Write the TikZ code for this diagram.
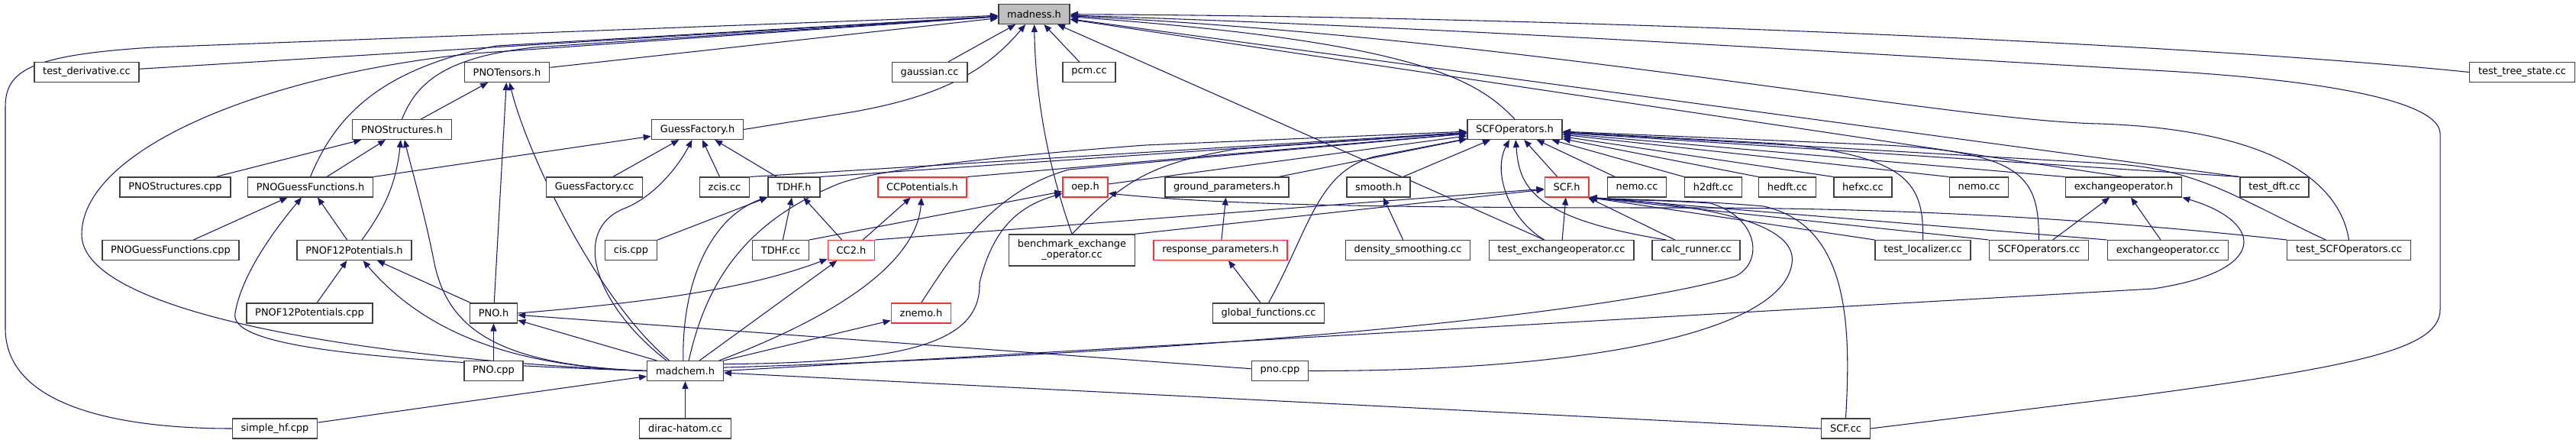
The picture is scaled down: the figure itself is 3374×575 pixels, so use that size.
\documentclass[tikz,border=0pt]{standalone}
\usepackage{fontspec}
\setmainfont{DejaVu Sans}
\usepackage{xcolor}
\usepackage{tikz}
\usetikzlibrary{arrows.meta, backgrounds}
\definecolor{edgeblue}{HTML}{191970}
\definecolor{boxgrey}{HTML}{404040}
\definecolor{boxred}{HTML}{FF3030}
\definecolor{mainfill}{HTML}{BFBFBF}
\tikzstyle{filenode} = [rectangle, draw=boxgrey, line width=1.1pt, fill=white, minimum height=19.2pt, inner xsep=8.5pt, inner ysep=1pt, font=\fontsize{9.7pt}{10.5pt}\selectfont]
\tikzstyle{redfile} = [filenode, draw=boxred]
\tikzstyle{mainfile} = [filenode, fill=mainfill]
\tikzstyle{arrow} = [draw=edgeblue, line width=0.8pt, -{Triangle[length=7.5pt,width=6pt]}]
\begin{document}
\begin{tikzpicture}[x=0.75pt, y=-0.75pt]
  \useasboundingbox (0,0) rectangle (3374,575);
  % rank 1 and 2
  \node (madness) [mainfile] at (1354.5,18.5) {madness.h};
  \node (testderiv) [filenode] at (113.5,94.5) {test\_derivative.cc};
  \node (pnotensors) [filenode] at (664,94.5) {PNOTensors.h};
  \node (gaussian) [filenode] at (1217.5,94.5) {gaussian.cc};
  \node (pcm) [filenode] at (1426.5,94.5) {pcm.cc};
  \node (testtree) [filenode] at (3303.5,94.5) {test\_tree\_state.cc};
  % rank 3
  \node (pnostruct) [filenode] at (526.5,169.5) {PNOStructures.h};
  \node (guessfac) [filenode] at (913.5,169.5) {GuessFactory.h};
  \node (scfops) [filenode] at (1984,169.5) {SCFOperators.h};
  % rank 4
  \node (pnostructcpp) [filenode] at (229.5,245) {PNOStructures.cpp};
  \node (pnoguess) [filenode] at (406.5,245) {PNOGuessFunctions.h};
  \node (guessfaccc) [filenode] at (778.5,245) {GuessFactory.cc};
  \node (zcis) [filenode] at (949,245) {zcis.cc};
  \node (tdhfh) [filenode] at (1040,245) {TDHF.h};
  \node (ccpot) [redfile] at (1208,245) {CCPotentials.h};
  \node (oep) [redfile] at (1421.5,245) {oep.h};
  \node (groundpar) [filenode] at (1607,245) {ground\_parameters.h};
  \node (smooth) [filenode] at (1805.5,245) {smooth.h};
  \node (scfh) [redfile] at (2052,245) {SCF.h};
  \node (nemoa) [filenode] at (2144,245) {nemo.cc};
  \node (htwodft) [filenode] at (2244,245) {h2dft.cc};
  \node (hedft) [filenode] at (2341,245) {hedft.cc};
  \node (hefxc) [filenode] at (2440,245) {hefxc.cc};
  \node (nemob) [filenode] at (2592,245) {nemo.cc};
  \node (exopsh) [filenode] at (2781.5,245) {exchangeoperator.h};
  \node (testdft) [filenode] at (2979,245) {test\_dft.cc};
  % rank 5
  \node (pnoguesscpp) [filenode] at (223.5,327.5) {PNOGuessFunctions.cpp};
  \node (pnofh) [filenode] at (464,327.5) {PNOF12Potentials.h};
  \node (cis) [filenode] at (826.5,327.5) {cis.cpp};
  \node (tdhfcc) [filenode] at (1022.5,327.5) {TDHF.cc};
  \node (cctwo) [redfile] at (1115,327.5) {CC2.h};
  \node (bench) [filenode, align=center, minimum height=30.75pt] at (1404,327.5) {benchmark\_exchange\\\_operator.cc};
  \node (resppar) [redfile] at (1598.5,327.5) {response\_parameters.h};
  \node (denssmooth) [filenode] at (1844,327.5) {density\_smoothing.cc};
  \node (testexop) [filenode] at (2045,327.5) {test\_exchangeoperator.cc};
  \node (calcrun) [filenode] at (2221.5,327.5) {calc\_runner.cc};
  \node (testloc) [filenode] at (2518.5,327.5) {test\_localizer.cc};
  \node (scfopscc) [filenode] at (2670.5,327.5) {SCFOperators.cc};
  \node (exopscc) [filenode] at (2839.5,327.5) {exchangeoperator.cc};
  \node (testscfops) [filenode] at (3076.5,327.5) {test\_SCFOperators.cc};
  % rank 6 to 8
  \node (pnofcpp) [filenode] at (405.5,410) {PNOF12Potentials.cpp};
  \node (pnoh) [filenode] at (646.5,410) {PNO.h};
  \node (znemo) [redfile] at (1206.5,410) {znemo.h};
  \node (globfun) [filenode] at (1661.5,410) {global\_functions.cc};
  \node (pnocpp) [filenode] at (646.5,485.5) {PNO.cpp};
  \node (madchem) [filenode] at (897.5,485.5) {madchem.h};
  \node (pnolower) [filenode] at (1676.5,485.5) {pno.cpp};
  \node (simplehf) [filenode] at (360,561) {simple\_hf.cpp};
  \node (dirac) [filenode] at (897.5,561) {dirac-hatom.cc};
  \node (scfcc) [filenode] at (2417.5,561) {SCF.cc};

  \begin{scope}[on background layer]
  % included from madness.h
  \draw[arrow] (testderiv) -- (madness);
  \draw[arrow] (simplehf.west) .. controls (150,561) and (7,530) .. (7,430) -- (7,140) .. controls (7,92) and (40,72) .. (200,62) -- (madness);
  \draw[arrow] (pnotensors) -- (madness);
  \draw[arrow] (pnostruct.north) .. controls (545,110) and (580,75) .. (700,62) -- (madness);
  \draw[arrow] (pnoguess.north) .. controls (440,150) and (500,90) .. (650,60) -- (madness);
  \draw[arrow] (madchem.west) .. controls (480,470) and (107,410) .. (107,307) .. controls (107,200) and (330,100) .. (620,70) -- (madness);
  \draw[arrow] (gaussian) -- (madness);
  \draw[arrow] (pcm) -- (madness);
  \draw[arrow] (guessfac.east) -- (1120,146) .. controls (1230,126) and (1290,95) .. (madness);
  \draw[arrow] (bench.north) .. controls (1370,210) and (1356,120) .. (madness);
  \draw[arrow] (scfops.north) .. controls (1935,105) and (1860,55) .. (madness);
  \draw[arrow] (testexop.149) -- (madness);
  \draw[arrow] (testtree.west) .. controls (2900,60) and (2100,22) .. (madness);
  \draw[arrow] (scfcc.east) -- (2800,518) .. controls (3100,478) and (3196,455) .. (3196,405) -- (3196,175) .. controls (3196,135) and (3060,105) .. (2820,92) .. controls (2400,68) and (1900,36) .. (madness);
  \draw[arrow] (testscfops.north) .. controls (3065,240) and (2980,170) .. (2750,162) .. controls (2550,158) and (2000,50) .. (madness);
  \draw[arrow] (testdft.north west) -- (madness);
  \draw[arrow] (exopsh.north) -- (madness);
  % PNO group
  \draw[arrow] (pnostruct) -- (pnotensors);
  \draw[arrow] (pnoh) -- (pnotensors);
  \draw[arrow] (madchem.147) .. controls (780,390) and (690,200) .. (pnotensors);
  \draw[arrow] (pnostructcpp) -- (pnostruct);
  \draw[arrow] (pnoguess) -- (pnostruct);
  \draw[arrow] (pnofh) to[bend right=15] (pnostruct);
  \draw[arrow] (madchem.west) .. controls (650,478) and (585,430) .. (568,340) .. controls (555,275) and (540,225) .. (pnostruct);
  \draw[arrow] (pnoguesscpp) -- (pnoguess);
  \draw[arrow] (pnofh) -- (pnoguess);
  \draw[arrow] (madchem.west) .. controls (450,472) and (300,450) .. (308,410) .. controls (316,360) and (360,300) .. (pnoguess);
  \draw[arrow] (pnoguess.north east) -- (guessfac);
  \draw[arrow] (pnofcpp) -- (pnofh);
  \draw[arrow] (pnoh) -- (pnofh);
  \draw[arrow] (madchem.west) .. controls (680,480) and (560,440) .. (pnofh);
  \draw[arrow] (pnocpp) -- (pnoh);
  \draw[arrow] (madchem.160) -- (pnoh);
  \draw[arrow] (pnolower) -- (pnoh);
  \draw[arrow] (pnoh.east) .. controls (900,392) and (1000,370) .. (cctwo);
  % GuessFactory and TDHF
  \draw[arrow] (guessfaccc) -- (guessfac);
  \draw[arrow] (zcis) -- (guessfac);
  \draw[arrow] (tdhfh) -- (guessfac);
  \draw[arrow] (madchem.151) .. controls (780,400) and (745,300) .. (820,272) .. controls (860,255) and (890,215) .. (guessfac);
  \draw[arrow] (cis) -- (tdhfh);
  \draw[arrow] (tdhfcc) -- (tdhfh);
  \draw[arrow] (cctwo) -- (tdhfh);
  \draw[arrow] (madchem.101) .. controls (893,370) and (930,285) .. (tdhfh);
  \draw[arrow] (cctwo) -- (ccpot);
  \draw[arrow] (madchem.17) .. controls (1080,420) and (1200,350) .. (ccpot);
  \draw[arrow] (madchem.36) -- (cctwo);
  \draw[arrow] (madchem.15) -- (znemo);
  \draw[arrow] (tdhfcc.north east) -- (oep);
  \draw[arrow] (madchem.10) .. controls (1200,475) and (1285,445) .. (1283,370) .. controls (1298,310) and (1325,272) .. (oep);
  \draw[arrow] (testscfops.north west) .. controls (2700,282) and (2450,272) .. (2200,272) .. controls (1800,272) and (1600,268) .. (oep.-15);
  % into SCFOperators.h
  \draw[arrow] (zcis.north east) -- (scfops);
  \draw[arrow] (tdhfh.north east) -- (scfops);
  \draw[arrow] (madchem.71) .. controls (925,370) and (975,290) .. (1100,240) .. controls (1150,222) and (1300,205) .. (1500,190) -- (scfops);
  \draw[arrow] (ccpot.north east) -- (scfops);
  \draw[arrow] (oep) -- (scfops);
  \draw[arrow] (bench.north) .. controls (1470,240) and (1500,215) .. (1620,195) -- (scfops);
  \draw[arrow] (znemo.north) .. controls (1250,330) and (1300,250) .. (1400,222) -- (scfops);
  \draw[arrow] (groundpar) -- (scfops);
  \draw[arrow] (globfun.north) .. controls (1715,300) and (1725,225) .. (1800,205) -- (scfops);
  \draw[arrow] (smooth) -- (scfops);
  \draw[arrow] (scfh) -- (scfops);
  \draw[arrow] (testexop.149) .. controls (1975,285) and (1955,225) .. (scfops);
  \draw[arrow] (calcrun.161) .. controls (2000,285) and (1990,240) .. (scfops);
  \draw[arrow] (nemoa) -- (scfops);
  \draw[arrow] (htwodft.north west) -- (scfops);
  \draw[arrow] (hedft.north west) -- (scfops);
  \draw[arrow] (hefxc.north west) -- (scfops);
  \draw[arrow] (nemob.north west) -- (scfops);
  \draw[arrow] (testloc.north) .. controls (2520,240) and (2500,205) .. (2330,188) -- (scfops);
  \draw[arrow] (scfopscc.north) .. controls (2670,235) and (2655,200) .. (2470,190) -- (scfops);
  \draw[arrow] (exopsh.north west) -- (scfops);
  \draw[arrow] (testdft.north west) -- (scfops);
  \draw[arrow] (testscfops.156) .. controls (2930,260) and (2880,220) .. (2760,214) -- (scfops);
  % into SCF.h
  \draw[arrow] (cctwo.north east) -- (scfh);
  \draw[arrow] (bench.north east) -- (scfh);
  \draw[arrow] (testexop) -- (scfh);
  \draw[arrow] (calcrun) -- (scfh);
  \draw[arrow] (madchem.5) .. controls (1700,458) and (2150,400) .. (2272,362) .. controls (2310,345) and (2305,285) .. (2240,266) .. controls (2180,262) and (2120,262) .. (scfh.south east);
  \draw[arrow] (pnolower.east) .. controls (2100,486) and (2335,430) .. (2347,345) .. controls (2357,285) and (2200,266) .. (scfh.south east);
  \draw[arrow] (scfcc.north) .. controls (2425,420) and (2420,295) .. (2310,270) .. controls (2220,262) and (2140,262) .. (scfh.south east);
  \draw[arrow] (testloc.north west) -- (scfh.south east);
  \draw[arrow] (scfopscc.north west) -- (scfh.south east);
  \draw[arrow] (exopscc.north west) -- (scfh.south east);
  % exchangeoperator.h and the rest
  \draw[arrow] (scfopscc) -- (exopsh);
  \draw[arrow] (exopscc) -- (exopsh);
  \draw[arrow] (madchem.east) -- (2820,378) .. controls (2975,355) and (2965,290) .. (exopsh.south east);
  \draw[arrow] (denssmooth) -- (smooth);
  \draw[arrow] (resppar) -- (groundpar);
  \draw[arrow] (globfun) -- (resppar);
  \draw[arrow] (simplehf) -- (madchem);
  \draw[arrow] (dirac) -- (madchem);
  \draw[arrow] (scfcc.west) -- (madchem);
  \end{scope}
\end{tikzpicture}
\end{document}
